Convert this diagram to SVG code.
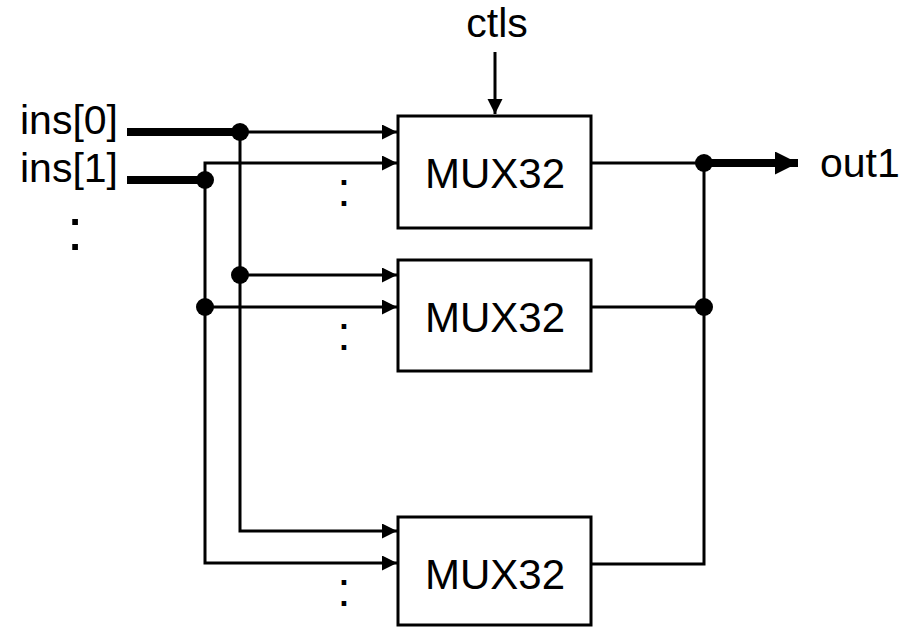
<svg xmlns="http://www.w3.org/2000/svg" width="912" height="627" viewBox="0 0 912 627">
<style>
text{font-family:"Liberation Sans",Arial,sans-serif;fill:#000}
.lbl{font-size:41px}
.mux{font-size:42px;text-anchor:middle}
.box{fill:#fff;stroke:#000;stroke-width:3}
.w{fill:none;stroke:#000;stroke-width:3}
.bus{fill:none;stroke:#000;stroke-width:8}
.dot{fill:#000}
.colon{font-size:48px;text-anchor:middle}
</style>
<defs>
<marker id="ah" markerUnits="userSpaceOnUse" markerWidth="16" markerHeight="16" refX="15" refY="7.5" orient="auto" viewBox="0 0 16 16">
<path d="M0,0 L15,7.5 L0,15 Z" fill="#000"/>
</marker>
<marker id="ahb" markerUnits="userSpaceOnUse" markerWidth="24" markerHeight="24" refX="23" refY="11.5" orient="auto" viewBox="0 0 24 24">
<path d="M0,0 L23,11.5 L0,23 Z" fill="#000"/>
</marker>
</defs>
<g id="labels">
<text class="lbl" x="20" y="134">ins[0]</text>
<text class="lbl" x="20" y="182">ins[1]</text>
<text x="75" y="250" style="font-size:60px;text-anchor:middle">:</text>
<text class="lbl" x="497" y="37" text-anchor="middle">ctls</text>
<text class="lbl" x="820" y="177">out1</text>
<text class="colon" x="344" y="205.5">:</text>
<text class="colon" x="344" y="350">:</text>
<text class="colon" x="344" y="606">:</text>
</g>
<g id="connectors">
<path class="bus" d="M127,132 H240"/>
<path class="bus" d="M127,180 H205"/>
<path class="w" d="M240,132 H397" marker-end="url(#ah)"/>
<path class="w" d="M205,180 V163 H397" marker-end="url(#ah)"/>
<path class="w" d="M240,132 V531 H397" marker-end="url(#ah)"/>
<path class="w" d="M205,180 V563 H397" marker-end="url(#ah)"/>
<path class="w" d="M240,275 H397" marker-end="url(#ah)"/>
<path class="w" d="M205,307 H397" marker-end="url(#ah)"/>
<path class="w" d="M495,52 V114" marker-end="url(#ah)"/>
<path class="w" d="M591,163 H704"/>
<path class="w" d="M591,307 H704"/>
<path class="w" d="M591,564 H704 V163"/>
<path class="bus" d="M704,163 H798" marker-end="url(#ahb)"/>
<circle class="dot" cx="240" cy="132" r="9"/>
<circle class="dot" cx="205" cy="180" r="9"/>
<circle class="dot" cx="240" cy="275" r="9"/>
<circle class="dot" cx="205" cy="307" r="9"/>
<circle class="dot" cx="704" cy="163" r="9"/>
<circle class="dot" cx="704" cy="307" r="9"/>
</g>
<g id="mux1">
<rect class="box" x="398" y="116" width="193" height="112"/>
<text class="mux" x="495" y="188">MUX32</text>
</g>
<g id="mux2">
<rect class="box" x="398" y="260" width="193" height="111"/>
<text class="mux" x="495" y="332">MUX32</text>
</g>
<g id="mux3">
<rect class="box" x="398" y="517" width="193" height="108"/>
<text class="mux" x="495" y="589">MUX32</text>
</g>
</svg>
